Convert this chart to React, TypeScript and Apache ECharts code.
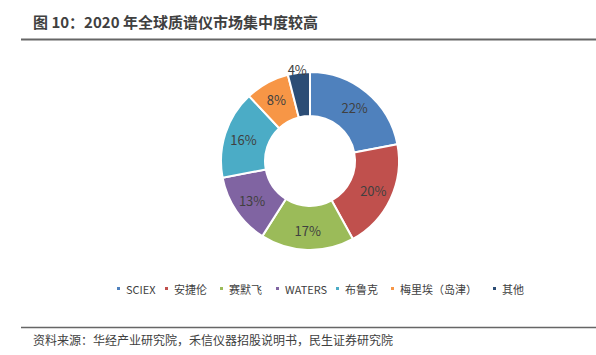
import React, { useEffect, useRef } from "react";
import * as echarts from "echarts";

const categories = ["SCIEX", "安捷伦", "赛默飞", "WATERS", "布鲁克", "梅里埃（岛津）", "其他"];
const shares = [22, 20, 17, 13, 16, 8, 4];
const colors = ["#4F81BD", "#C0504D", "#9BBB59", "#8064A2", "#4BACC6", "#F79646", "#2C4D75"];
const legendLefts = [115, 163, 218, 274, 334, 389, 491];
const titleText = "图 10：2020 年全球质谱仪市场集中度较高";
const sourceText = "资料来源：华经产业研究院，禾信仪器招股说明书，民生证券研究院";

export default function App() {
  const ref = useRef<HTMLDivElement>(null);
  useEffect(() => {
    document.body.style.margin = "0";
    const chart = echarts.init(ref.current!, null, { renderer: "svg" });
    const font = "'Microsoft YaHei', 'Noto Sans CJK SC', sans-serif";
    chart.setOption({
      animation: false,
      backgroundColor: "#ffffff",
      color: colors,
      graphic: [
        {
          type: "text",
          left: 33,
          top: 14,
          style: { text: titleText, font: `bold 15px ${font}`, fill: "#404040" },
        },
        {
          type: "line",
          shape: { x1: 21, y1: 39.5, x2: 596, y2: 39.5 },
          style: { stroke: "#666666", lineWidth: 2 },
        },
        {
          type: "line",
          shape: { x1: 21, y1: 327.5, x2: 596, y2: 327.5 },
          style: { stroke: "#666666", lineWidth: 1.5 },
        },
        {
          type: "text",
          left: 33,
          top: 333,
          style: { text: sourceText, font: `12px ${font}`, fill: "#404040" },
        },
      ],
      legend: categories.map((name, i) => ({
        top: 283,
        left: legendLefts[i],
        icon: "rect",
        itemWidth: 5,
        itemHeight: 5,
        padding: 0,
        textStyle: { fontSize: 11, color: "#404040", fontFamily: font, padding: [0, 0, 0, 0] },
        data: [name],
      })),
      series: [
        {
          type: "pie",
          center: [310, 161],
          radius: [45, 89],
          startAngle: 90,
          clockwise: true,
          avoidLabelOverlap: false,
          itemStyle: { borderColor: "#ffffff", borderWidth: 2 },
          label: {
            show: true,
            position: "inside",
            formatter: "{c}%",
            fontSize: 13,
            color: "#404040",
            fontFamily: font,
          },
          labelLine: { show: false },
          data: categories.map((name, i) => ({
            name,
            value: shares[i],
            label: i === categories.length - 1 ? { offset: [-4, -22] } : undefined,
          })),
        },
      ],
    });
    return () => chart.dispose();
  }, []);
  return <div ref={ref} style={{ width: 596, height: 355 }} />;
}
